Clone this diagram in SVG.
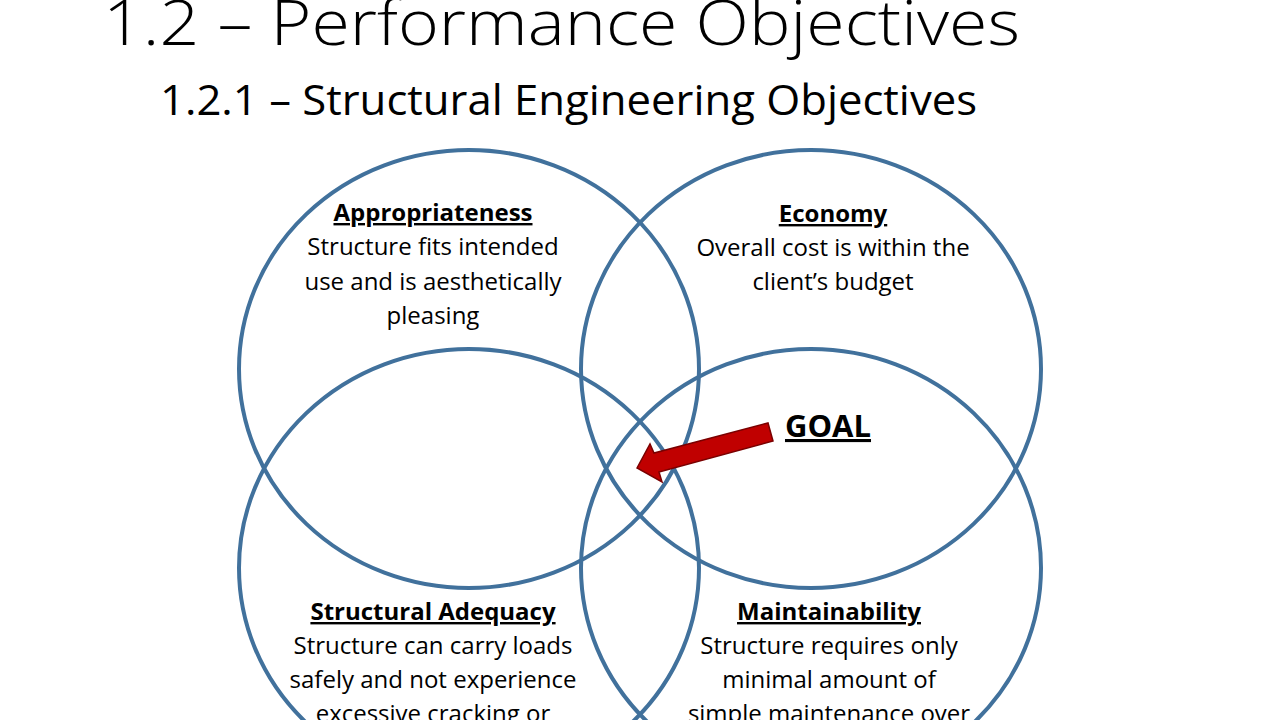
<svg xmlns="http://www.w3.org/2000/svg" width="1280" height="720" viewBox="0 0 1280 720">
<style>
.c{fill:none;stroke:#41719C;stroke-width:4}
.t{font-family:"Open Sans","Liberation Sans",sans-serif;font-size:24px;fill:#000;text-anchor:middle}
.h{font-weight:bold;text-decoration:underline}
</style>
<rect width="1280" height="720" fill="#fff"/>
<text x="103" y="45" font-family="Open Sans, Liberation Sans, sans-serif" font-size="62" font-weight="300" textLength="917" lengthAdjust="spacingAndGlyphs">1.2 – Performance Objectives</text>
<text x="160" y="115" font-family="Open Sans, Liberation Sans, sans-serif" font-size="42" textLength="817" lengthAdjust="spacingAndGlyphs">1.2.1 – Structural Engineering Objectives</text>
<g id="appropriateness"><ellipse class="c" cx="469" cy="369" rx="230" ry="219"/>
<text class="t h" x="433" y="221">Appropriateness</text>
<text class="t" x="433" y="255">Structure fits intended</text>
<text class="t" x="433" y="290">use and is aesthetically</text>
<text class="t" x="433" y="324">pleasing</text></g>
<g id="economy"><ellipse class="c" cx="811" cy="369" rx="230" ry="219"/>
<text class="t h" x="833" y="222">Economy</text>
<text class="t" x="833" y="256">Overall cost is within the</text>
<text class="t" x="833" y="290">client’s budget</text></g>
<g id="adequacy"><ellipse class="c" cx="469" cy="568" rx="230" ry="219"/>
<text class="t h" x="433" y="620">Structural Adequacy</text>
<text class="t" x="433" y="654">Structure can carry loads</text>
<text class="t" x="433" y="688">safely and not experience</text>
<text class="t" x="433" y="722">excessive cracking or</text></g>
<g id="maintainability"><ellipse class="c" cx="811" cy="568" rx="230" ry="219"/>
<text class="t h" x="829" y="620">Maintainability</text>
<text class="t" x="829" y="654">Structure requires only</text>
<text class="t" x="829" y="688">minimal amount of</text>
<text class="t" x="829" y="722">simple maintenance over</text></g>
<g id="goal"><text class="t h" x="828" y="437" style="font-size:31px">GOAL</text></g>
<g id="connectors"><polygon points="637,468 650,444 654,453 768,423 773,441 659,472 662,482" fill="#C00000" stroke="#7a0000" stroke-width="1.5"/></g>
</svg>
